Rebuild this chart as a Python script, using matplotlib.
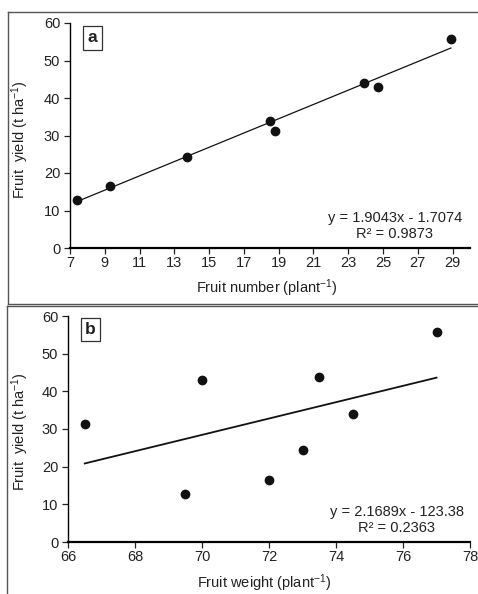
import numpy as np
import matplotlib
matplotlib.use("Agg")
import matplotlib.pyplot as plt
from matplotlib.lines import Line2D

plt.rcParams['font.family'] = ['Liberation Sans', 'DejaVu Sans']
plt.rcParams['mathtext.fontset'] = 'custom'
plt.rcParams['mathtext.rm'] = 'Liberation Sans'
plt.rcParams['mathtext.it'] = 'Liberation Sans'
plt.rcParams['font.size'] = 10.5

# data
fruit_yield = [12.7, 16.5, 24.3, 33.9, 31.3, 43.9, 43.0, 55.7]
fruit_number = [7.4, 9.3, 13.7, 18.5, 18.8, 23.9, 24.7, 28.9]
fruit_weight = [69.5, 72.0, 73.0, 74.5, 66.5, 73.5, 70.0, 77.0]

# trendline equations as printed on the chart
fit_a = (1.9043, -1.7074, 0.9873)
fit_b = (2.1689, -123.38, 0.2363)
eq_a = 'y = 1.9043x - 1.7074\nR² = 0.9873'
eq_b = 'y = 2.1689x - 123.38\nR² = 0.2363'

W, H = 478, 594
fig = plt.figure(figsize=(W / 100, H / 100), dpi=100)
txt = '#222222'


def px(x, y):
    return x / W, 1 - y / H


def panel(rect, x, fit, eq, lw, xlim, xticks, xlabel, letter, letter_xy, eq_xy, ylab_xy, xlab_xy):
    ax = fig.add_axes(rect)
    ax.scatter(x, fruit_yield, s=36, color='#111111', zorder=3)
    xs = np.array([min(x), max(x)])
    ax.plot(xs, fit[0] * xs + fit[1], color='#111111', lw=lw)
    ax.set_xlim(*xlim)
    ax.set_ylim(0, 60)
    ax.set_xticks(xticks)
    ax.set_yticks(range(0, 61, 10))
    for s in ['top', 'right']:
        ax.spines[s].set_visible(False)
    ax.spines['bottom'].set_linewidth(1.6)
    ax.spines['left'].set_linewidth(1.0)
    ax.tick_params(axis='both', direction='out', length=4, width=0.9,
                   labelsize=10.5, colors=txt, pad=2)
    ax.tick_params(axis='y', pad=3)

    fig.text(*px(*ylab_xy), r'Fruit  yield (t ha$^{-1}$)', rotation=90,
             ha='center', va='center', color=txt, fontsize=10.5)
    fig.text(*px(*xlab_xy), xlabel, ha='center', va='center', color=txt, fontsize=10.5)
    fig.text(*px(*letter_xy), letter, ha='center', va='center', fontsize=12.5,
             fontweight='bold', color=txt,
             bbox=dict(boxstyle='square,pad=0.25', fc='white', ec='#333333', lw=0.9))
    fig.text(*px(*eq_xy), eq, ha='center', va='center', multialignment='center',
             color=txt, fontsize=10.5, linespacing=1.15)
    return ax


l, b = px(70, 248)
r, t = px(470, 23)
panel([l, b, r - l, t - b], fruit_number, fit_a, eq_a, 0.9, (7, 30), range(7, 30, 2),
      r'Fruit number (plant$^{-1}$)', 'a', (92.5, 38), (395, 226), (20, 140), (267, 288))

l, b = px(68, 542)
r, t = px(470, 316)
panel([l, b, r - l, t - b], fruit_weight, fit_b, eq_b, 1.3, (66, 78), range(66, 79, 2),
      r'Fruit weight (plant$^{-1}$)', 'b', (90.5, 329.5), (397, 520), (20, 432), (264, 583))

# panel frames
fc = '#555555'
for xs, ys in [([8, 8], [12, 304]), ([8, 478], [12, 12]), ([8, 478], [304, 304]),
               ([7, 478], [306, 306]), ([7, 7], [306, 594])]:
    fig.add_artist(Line2D([v / W for v in xs], [1 - v / H for v in ys],
                          color=fc, lw=1.0, transform=fig.transFigure))

fig.savefig('out.png', dpi=100, facecolor='white')
